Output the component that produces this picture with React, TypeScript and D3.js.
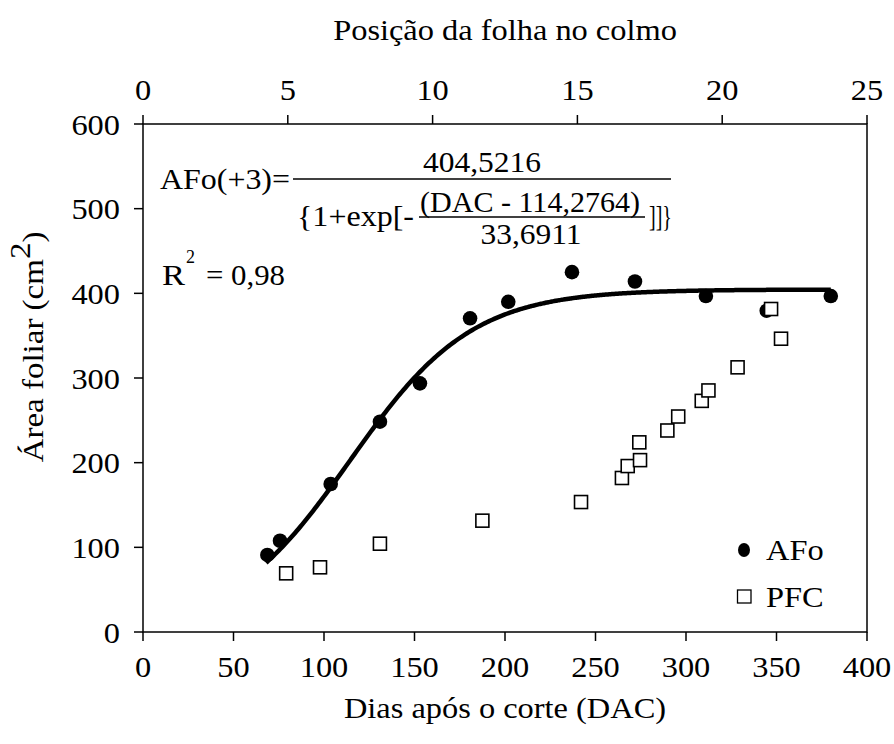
import React from "react";
import * as d3 from "d3";

// Área foliar (AFo) por dias após o corte, e posição da folha no colmo (PFC)
const afoDias = [68.7, 75.7, 103.7, 130.9, 153, 180.7, 201.8, 237, 271.8, 311, 344.6, 380];
const afoArea = [91, 107.8, 174.8, 248.4, 293.7, 370.5, 390, 425, 414, 396.8, 379.5, 396.8];

const pfcDias = [79.1, 97.8, 130.9, 187.5, 242, 264.6, 267.8, 274.2, 274.6, 289.7, 295.7, 308.7, 312.4, 328.5, 347, 352.5];
const pfcArea = [69.3, 76.4, 104.3, 131.5, 153.5, 181.9, 196, 224, 203, 238, 254.5, 273, 285.3, 312.6, 381.5, 346.4];

const xTicks = [0, 50, 100, 150, 200, 250, 300, 350, 400];
const topTicks = [0, 5, 10, 15, 20, 25];
const yTicks = [0, 100, 200, 300, 400, 500, 600];

// Modelo logístico ajustado
const A = 404.5216;
const X0 = 114.2764;
const B = 33.6911;
const fitStart = 68;
const fitEnd = 380;

const W = 894;
const H = 744;
const m = { left: 143, right: 27, top: 124, bottom: 112 };
const FONT = "'Liberation Serif', 'Times New Roman', serif";
const FS = 30;
const SX = 1.08;

function T({ x, y, anchor = "start", size = FS, children }: any) {
  return (
    <text
      transform={`translate(${x},${y}) scale(${SX},1)`}
      textAnchor={anchor}
      fontFamily={FONT}
      fontSize={size}
      fill="#000"
    >
      {children}
    </text>
  );
}

// peça da equação, ajustada a uma largura fixa
function E({ x, y, w, anchor = "start", children }: any) {
  return (
    <text
      x={x}
      y={y}
      textAnchor={anchor}
      textLength={w}
      lengthAdjust="spacingAndGlyphs"
      fontFamily={FONT}
      fontSize={FS}
      fill="#000"
    >
      {children}
    </text>
  );
}

export default function App() {
  const x = d3.scaleLinear().domain([0, 400]).range([m.left, W - m.right]);
  const xTop = d3.scaleLinear().domain([0, 25]).range([m.left, W - m.right]);
  const y = d3.scaleLinear().domain([0, 600]).range([H - m.bottom, m.top]);

  const fitX = d3.range(fitStart, fitEnd + 0.5, 1);
  const line = d3
    .line<number>()
    .x((d) => x(d))
    .y((d) => y(A / (1 + Math.exp(-(d - X0) / B))))
    .curve(d3.curveBasis);

  const x0 = x(0);
  const x1 = x(400);
  const y0 = y(0);
  const y1 = y(600);
  const tick = 9;
  const sq = 13;

  return (
    <svg width={W} height={H} style={{ position: "absolute", left: 0, top: 0, background: "#fff" }}>
      <rect x={0} y={0} width={W} height={H} fill="#fff" />
      {/* moldura */}
      <rect x={x0} y={y1} width={x1 - x0} height={y0 - y1} fill="none" stroke="#000" strokeWidth={1.5} />

      {/* eixo inferior */}
      {xTicks.map((t) => (
        <g key={"xb" + t}>
          <line x1={x(t)} x2={x(t)} y1={y0} y2={y0 + tick} stroke="#000" strokeWidth={1.5} />
          <T x={x(t)} y={y0 + 45} anchor="middle">{t}</T>
        </g>
      ))}
      {/* eixo superior */}
      {topTicks.map((t) => (
        <g key={"xt" + t}>
          <line x1={xTop(t)} x2={xTop(t)} y1={y1} y2={y1 - tick} stroke="#000" strokeWidth={1.5} />
          <T x={xTop(t)} y={y1 - 24} anchor="middle">{t}</T>
        </g>
      ))}
      {/* eixo y */}
      {yTicks.map((t) => (
        <g key={"y" + t}>
          <line x1={x0 - tick} x2={x0} y1={y(t)} y2={y(t)} stroke="#000" strokeWidth={1.5} />
          <T x={x0 - 23} y={y(t) + 10.5} anchor="end">{t}</T>
        </g>
      ))}

      {/* títulos */}
      <T x={505} y={718} anchor="middle">Dias após o corte (DAC)</T>
      <T x={505} y={40} anchor="middle">Posição da folha no colmo</T>
      <text
        transform={`translate(43,347) rotate(-90) scale(1.1,1)`}
        textAnchor="middle"
        fontFamily={FONT}
        fontSize={FS}
      >
        Área foliar (cm<tspan dy={-13}>2</tspan><tspan dy={13}>)</tspan>
      </text>

      {/* curva ajustada */}
      <path d={line(fitX) || ""} fill="none" stroke="#000" strokeWidth={4.5} />

      {/* AFo */}
      {afoDias.map((d, i) => (
        <circle key={"a" + i} cx={x(d)} cy={y(afoArea[i])} r={7.3} fill="#000" />
      ))}
      {/* PFC */}
      {pfcDias.map((d, i) => (
        <rect
          key={"p" + i}
          x={x(d) - sq / 2}
          y={y(pfcArea[i]) - sq / 2}
          width={sq}
          height={sq}
          fill="#fff"
          stroke="#000"
          strokeWidth={1.6}
        />
      ))}

      {/* equação */}
      <E x={160} y={189} w={130}>AFo(+3)=</E>
      <line x1={293} x2={671} y1={179} y2={179} stroke="#000" strokeWidth={1.3} />
      <E x={482} y={172} w={118} anchor="middle">404,5216</E>
      <E x={297} y={226} w={117}>{"{1+exp[-"}</E>
      <line x1={419} x2={645} y1={217} y2={217} stroke="#000" strokeWidth={1.3} />
      <E x={530} y={212} w={220} anchor="middle">(DAC - 114,2764)</E>
      <E x={531} y={244} w={101} anchor="middle">33,6911</E>
      <E x={649} y={226} w={23}>]]{"}"}</E>

      {/* R² */}
      <E x={162} y={285} w={23}>R</E>
      <text x={186} y={263} fontFamily={FONT} fontSize={18} fill="#000">2</text>
      <E x={206} y={285} w={79}>= 0,98</E>

      {/* legenda */}
      <ellipse cx={744} cy={550} rx={6} ry={7} fill="#000" />
      <T x={766} y={560}>AFo</T>
      <rect x={737.5} y={590} width={13.5} height={13} fill="#fff" stroke="#000" strokeWidth={1.3} />
      <T x={766} y={607}>PFC</T>
    </svg>
  );
}
